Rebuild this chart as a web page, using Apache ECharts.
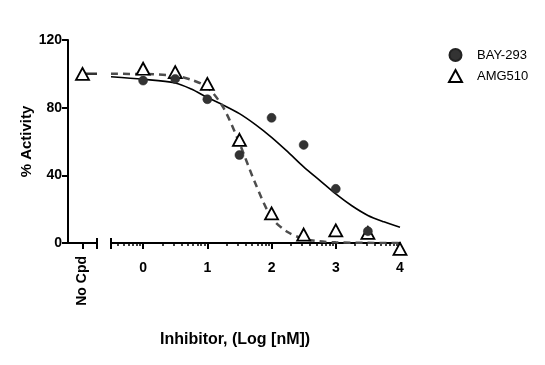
<!DOCTYPE html>
<html>
<head>
<meta charset="utf-8">
<script src="https://cdn.jsdelivr.net/npm/echarts@6/dist/echarts.min.js"></script>
<style>
html,body{margin:0;padding:0;background:#fff;}
#chart{width:545px;height:365px;}
</style>
</head>
<body>
<div id="chart"></div>
<script>
// ---- Data (log10 nM on x, % activity on y) ----
var noCpdLabel = 'No Cpd';
var xTickLabels = [0, 1, 2, 3, 4];
var yTickLabels = [0, 40, 80, 120];

var bayX = [0, 0.5, 1, 1.5, 2, 2.5, 3, 3.5];
var bayY = [96, 97, 85, 52, 74, 58, 32, 7];

var amgX = [0, 0.5, 1, 1.5, 2, 2.5, 3, 3.5, 4];
var amgY = [103, 101, 94, 61, 17.5, 5, 7.5, 6, -3.5];
var amgNoCpd = [100];

// fitted curves
var bayFitX = [-0.5, 0, 0.5, 0.75, 1, 1.25, 1.5, 1.75, 2, 2.25, 2.5, 2.75, 3, 3.25, 3.5, 3.75, 4];
var bayFitY = [98.3, 96.8, 94.6, 91, 86, 81.5, 76.5, 70, 62.5, 54, 45, 37, 29, 22, 16.3, 12.5, 9.3];

var amgFitX = [-0.5, 0, 0.5, 0.75, 1, 1.25, 1.5, 1.75, 2, 2.25, 2.5, 2.75, 3, 3.5, 4];
var amgFitY = [100, 99.9, 98.8, 96.5, 92, 80, 59, 35, 15, 6.5, 2.5, 1, 0.4, 0.1, 0];
var amgNoCpdFit = [100, 100];

// ---- build ----
function pairs(xs, ys) { return xs.map(function (x, i) { return [x, ys[i]]; }); }

var minorTicks = [];
for (var n = -1; n <= 3; n++) {
  for (var k = 2; k <= 9; k++) {
    var v = n + Math.log10(k);
    if (v >= -0.5 && v <= 4) minorTicks.push(v);
  }
}

var FONT = 'Liberation Sans, Arial, sans-serif';
var axisLineStyle = { color: '#000', width: 2 };

var chart = echarts.init(document.getElementById('chart'));
chart.setOption({
  animation: false,
  backgroundColor: '#fff',
  textStyle: { fontFamily: FONT },
  grid: [
    { left: 68, top: 40, width: 29, bottom: 122, containLabel: false },
    { left: 111, top: 40, width: 289, bottom: 122, containLabel: false }
  ],
  legend: {
    orient: 'vertical',
    left: 443, top: 43,
    itemWidth: 13, itemHeight: 12, itemGap: 7,
    data: ['BAY-293', 'AMG510'],
    textStyle: { fontFamily: FONT, fontSize: 13, color: '#000', padding: [0, 0, 0, 10] }
  },
  xAxis: [
    { gridIndex: 0, type: 'value', min: 0, max: 2, position: 'bottom',
      axisLine: { show: true, onZero: false, lineStyle: axisLineStyle },
      axisTick: { show: true, length: 6, lineStyle: { color: '#000', width: 2 }, customValues: [1, 2] },
      axisLabel: { show: true, customValues: [1], rotate: 90, margin: 13,
        formatter: function () { return noCpdLabel; },
        fontFamily: FONT, fontSize: 14, fontWeight: 'bold', color: '#000' },
      splitLine: { show: false } },
    { gridIndex: 0, type: 'value', min: 0, max: 2, position: 'bottom',
      axisLine: { show: false, onZero: false },
      axisTick: { show: true, inside: true, length: 5, lineStyle: { color: '#000', width: 2 }, customValues: [2] },
      axisLabel: { show: false }, splitLine: { show: false } },
    { gridIndex: 1, type: 'value', min: -0.5, max: 4, position: 'bottom',
      axisLine: { show: true, onZero: false, lineStyle: axisLineStyle },
      axisTick: { show: true, length: 6, lineStyle: { color: '#000', width: 2 }, customValues: [-0.5].concat(xTickLabels) },
      axisLabel: { show: true, customValues: xTickLabels, margin: 18,
        fontFamily: FONT, fontSize: 14, fontWeight: 'bold', color: '#000' },
      splitLine: { show: false } },
    { gridIndex: 1, type: 'value', min: -0.5, max: 4, position: 'bottom',
      axisLine: { show: false, onZero: false },
      axisTick: { show: true, length: 3, lineStyle: { color: '#000', width: 1.5 }, customValues: minorTicks },
      axisLabel: { show: false }, splitLine: { show: false } },
    { gridIndex: 1, type: 'value', min: -0.5, max: 4, position: 'bottom',
      axisLine: { show: false, onZero: false },
      axisTick: { show: true, inside: true, length: 5, lineStyle: { color: '#000', width: 2 }, customValues: [-0.5] },
      axisLabel: { show: false }, splitLine: { show: false } }
  ],
  yAxis: [
    { gridIndex: 0, type: 'value', min: 0, max: 120, interval: 40,
      name: '% Activity', nameLocation: 'middle', nameGap: 34,
      nameTextStyle: { fontFamily: FONT, fontSize: 15, fontWeight: 'bold', color: '#000' },
      axisLine: { show: true, onZero: false, lineStyle: axisLineStyle },
      axisTick: { show: true, length: 6, lineStyle: { color: '#000', width: 2 } },
      axisLabel: { show: true, margin: 6, fontFamily: FONT, fontSize: 14, fontWeight: 'bold', color: '#000' },
      splitLine: { show: false } },
    { gridIndex: 1, type: 'value', min: 0, max: 120, interval: 40, show: false }
  ],
  graphic: [
    { type: 'text', left: 160, top: 332,
      style: { text: 'Inhibitor, (Log [nM])', font: 'bold 16px ' + FONT, fill: '#000' } }
  ],
  series: [
    { name: 'BAY-293 fit', type: 'line', xAxisIndex: 2, yAxisIndex: 1,
      data: pairs(bayFitX, bayFitY), smooth: 0.3, showSymbol: false, symbol: 'none',
      lineStyle: { color: '#000', width: 1.6 }, z: 2, silent: true },
    { name: 'AMG510 fit', type: 'line', xAxisIndex: 2, yAxisIndex: 1,
      data: pairs(amgFitX, amgFitY), smooth: 0.3, showSymbol: false, symbol: 'none',
      lineStyle: { color: '#4d4d4d', width: 2.5, type: [7, 5] }, z: 2, silent: true },
    { name: 'AMG510 fit nc', type: 'line', xAxisIndex: 0, yAxisIndex: 0,
      data: pairs([1, 2], amgNoCpdFit), showSymbol: false, symbol: 'none',
      lineStyle: { color: '#333', width: 2.5 }, z: 2, silent: true },
    { name: 'AMG510', type: 'scatter', xAxisIndex: 2, yAxisIndex: 1, clip: false,
      data: pairs(amgX, amgY), symbol: 'triangle', symbolSize: [13, 12],
      itemStyle: { color: '#fff', borderColor: '#000', borderWidth: 1.8, opacity: 1 }, z: 3 },
    { name: 'AMG510', type: 'scatter', xAxisIndex: 0, yAxisIndex: 0, clip: false,
      data: pairs([1], amgNoCpd), symbol: 'triangle', symbolSize: [13, 12],
      itemStyle: { color: '#fff', borderColor: '#000', borderWidth: 1.8, opacity: 1 }, z: 3 },
    { name: 'BAY-293', type: 'scatter', xAxisIndex: 2, yAxisIndex: 1, clip: false,
      data: pairs(bayX, bayY), symbol: 'circle', symbolSize: 9,
      itemStyle: { color: '#333', borderColor: '#222', borderWidth: 0.5, opacity: 1 }, z: 4 }
  ]
});
</script>
</body>
</html>
